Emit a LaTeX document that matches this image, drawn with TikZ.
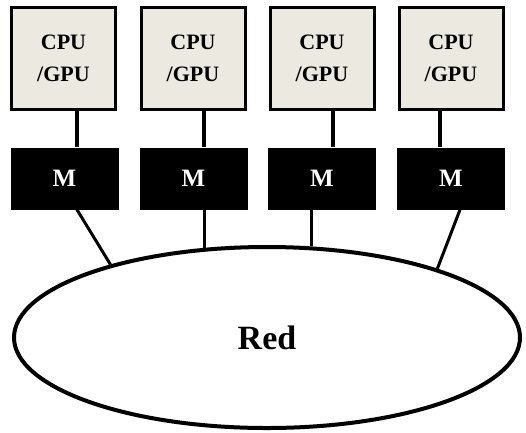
\documentclass[tikz,border=0pt]{standalone}
\usepackage{fontspec}
\setmainfont{Liberation Serif}
\usepackage{tikz}
\usetikzlibrary{shapes.geometric}
\definecolor{cpubg}{RGB}{236,234,224}
\tikzset{
	cpubox/.style={draw=black, line width=3pt, fill=cpubg, minimum width=104pt, minimum height=102pt, inner sep=0pt, align=center, font=\fontsize{22}{32}\selectfont\bfseries},
	membox/.style={fill=black, text=white, minimum width=108pt, minimum height=62pt, inner sep=0pt, font=\fontsize{25}{28}\selectfont\bfseries},
	netring/.style={ellipse, draw=black, line width=4pt, fill=white, minimum width=506pt, minimum height=181pt, inner sep=0pt, font=\fontsize{34}{40}\selectfont\bfseries},
	wire/.style={line width=3.5pt},
	link/.style={line width=3pt}
}

\begin{document}
\begin{tikzpicture}[x=1pt, y=-1pt]
		%%%%% START %%%%%
		\useasboundingbox (0, 0) rectangle (526, 432);
		
		\node[cpubox] (cpu1) at (63.5, 58.5) {CPU\\/GPU};
		\node[cpubox] (cpu2) at (193, 58.5) {CPU\\/GPU};
		\node[cpubox] (cpu3) at (322, 58.5) {CPU\\/GPU};
		\node[cpubox] (cpu4) at (451, 58.5) {CPU\\/GPU};
		
		\node[membox] (mem1) at (64.5, 178.5) {M};
		\node[membox] (mem2) at (193.5, 178.5) {M};
		\node[membox] (mem3) at (322, 178.5) {M};
		\node[membox] (mem4) at (451, 178.5) {M};
		
		\node[netring] (red) at (267, 337.5) {Red};
		
		\draw[wire] ([xshift=13.5pt]cpu1.south) -- ([xshift=12.5pt]mem1.north);
		\draw[wire] ([xshift=11pt]cpu2.south) -- ([xshift=10.5pt]mem2.north);
		\draw[wire] ([xshift=11pt]cpu3.south) -- ([xshift=11pt]mem3.north);
		\draw[wire] ([xshift=-11pt]cpu4.south) -- ([xshift=-11pt]mem4.north);
		
		\draw[link] ([xshift=12.5pt]mem1.south) -- (red.155);
		\draw[link] ([xshift=10.5pt]mem2.south) -- ([xshift=10.5pt]mem2.south |- red.126);
		\draw[link] ([xshift=-11pt]mem3.south) -- ([xshift=-11pt]mem3.south |- red.64);
		\draw[link] ([xshift=9pt]mem4.south) -- (red.22);
		%%%%% END %%%%%
	\end{tikzpicture}
\end{document}
